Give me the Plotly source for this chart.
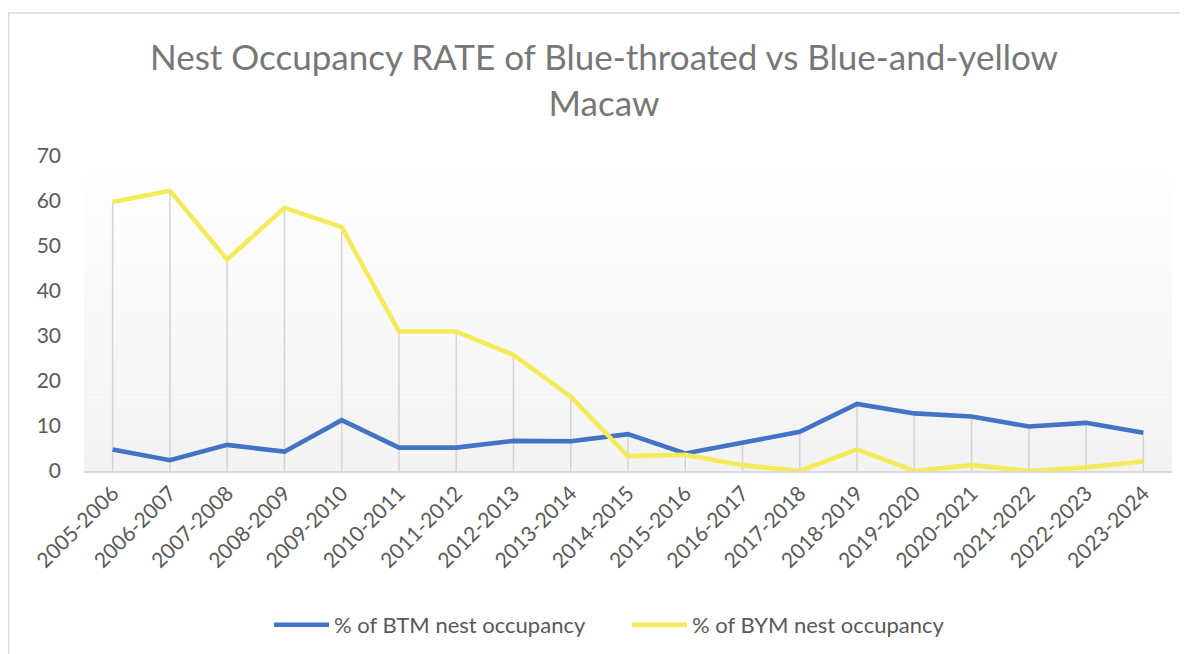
import plotly.graph_objects as go

seasons = ["2005-2006", "2006-2007", "2007-2008", "2008-2009", "2009-2010",
           "2010-2011", "2011-2012", "2012-2013", "2013-2014", "2014-2015",
           "2015-2016", "2016-2017", "2017-2018", "2018-2019", "2019-2020",
           "2020-2021", "2021-2022", "2022-2023", "2023-2024"]
btm = [4.8, 2.4, 5.8, 4.3, 11.3, 5.2, 5.2, 6.7, 6.6, 8.2,
       3.9, 6.3, 8.7, 14.9, 12.8, 12.1, 9.9, 10.7, 8.5]
bym = [59.8, 62.3, 47.0, 58.5, 54.2, 31.0, 31.0, 25.8, 16.5, 3.3,
       3.6, 1.3, 0.0, 4.8, 0.0, 1.3, 0.0, 0.8, 2.1]
y_ticks = [0, 10, 20, 30, 40, 50, 60, 70]

series_names = ["% of BTM nest occupancy", "% of BYM nest occupancy"]
colors = ["#4472C4", "#F4EB5B"]

OFF = 8  # page body margin
W, H = 1188 - OFF, 654 - OFF
L, T = 84 - OFF, 156 - OFF
pw, ph = 1088, 315
R, B = W - L - pw, H - T - ph

FONT = "Lato"
TXT = "#595959"

fig = go.Figure()

# drop lines from the highest point of each category to the axis
dx, dy = [], []
for s, a, b in zip(seasons, btm, bym):
    dx += [s, s, None]
    dy += [max(a, b), 0, None]
fig.add_trace(go.Scatter(x=dx, y=dy, mode="lines", showlegend=False,
                         hoverinfo="skip",
                         line=dict(color="#d4d4d4", width=1.5)))

for name, vals, c in zip(series_names, [btm, bym], colors):
    fig.add_trace(go.Scatter(x=seasons, y=vals, mode="lines", name=name,
                             line=dict(color=c, width=4.6, shape="linear")))

# gradient plot-area background
shapes = []
n = 60
for i in range(n):
    t = i / (n - 1)  # 0 bottom, 1 top
    v = int(round(242 + (255 - 242) * t))
    shapes.append(dict(type="rect", xref="x domain", yref="y domain",
                       x0=0, x1=1, y0=i / n, y1=(i + 1) / n,
                       fillcolor=f"rgb({v},{v},{v})", line=dict(width=0),
                       layer="below"))
# chart border (cropped on right/bottom)
shapes.append(dict(type="rect", xref="paper", yref="paper",
                   x0=(0.5 - L) / pw, x1=(W + 20 - L) / pw,
                   y0=(T + ph - (H + 20)) / ph, y1=(T + ph - 5) / ph,
                   line=dict(color="#d9d9d9", width=1.5),
                   fillcolor="rgba(0,0,0,0)", layer="below"))

fig.update_layout(
    width=W, height=H,
    margin=dict(l=L, r=R, t=T, b=B, autoexpand=False),
    paper_bgcolor="white", plot_bgcolor="rgba(0,0,0,0)",
    shapes=shapes,
    title=dict(text="Nest Occupancy RATE of Blue-throated vs Blue-and-yellow<br>Macaw",
               x=(604 - OFF) / W, xanchor="center", xref="container",
               y=1 - (70 - OFF) / H, yanchor="middle", yref="container",
               font=dict(family=FONT, size=35, color="#777777")),
    font=dict(family=FONT, color=TXT),
    showlegend=True,
    legend=dict(orientation="h", x=(627 - OFF - L) / pw, xanchor="center",
                y=(T + ph - (625 - OFF)) / ph, yanchor="middle",
                font=dict(family=FONT, size=22, color=TXT),
                bgcolor="rgba(0,0,0,0)", itemwidth=55, entrywidth=288),
    xaxis=dict(type="category", range=[-0.5, len(seasons) - 0.5],
               showgrid=False, zeroline=False, showline=True,
               linecolor="#d9d9d9", linewidth=1.5, ticks="",
               tickangle=-45, tickfont=dict(family=FONT, size=21, color=TXT)),
    yaxis=dict(range=[0, 70], tickvals=y_ticks, showgrid=False,
               zeroline=False, showline=False, ticks="",
               ticklabelstandoff=22,
               tickfont=dict(family=FONT, size=21, color=TXT)),
)

fig.write_html("out.html")
